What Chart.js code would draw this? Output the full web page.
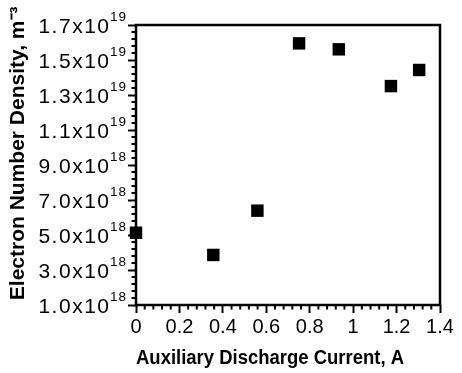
<!DOCTYPE html>
<html><head><meta charset="utf-8">
<script src="https://cdn.jsdelivr.net/npm/chart.js@4"></script>
<style>html,body{margin:0;padding:0;background:#fff}#wrap{width:462px;height:373px}</style>
</head><body><div id="wrap"><canvas id="c"></canvas></div>
<script>
const currentA = [0, 0.356, 0.559, 0.751, 0.934, 1.174, 1.304];
const densityM3 = [5.13e18, 3.86e18, 6.39e18, 1.595e19, 1.561e19, 1.351e19, 1.443e19];
const xTickValues = [0, 0.2, 0.4, 0.6, 0.8, 1.0, 1.2, 1.4];
const xTickLabels = ['0', '0.2', '0.4', '0.6', '0.8', '1', '1.2', '1.4'];
const yTickValues = [1e18, 3e18, 5e18, 7e18, 9e18, 1.1e19, 1.3e19, 1.5e19, 1.7e19];
const yTickMantissas = ['1.0x10', '3.0x10', '5.0x10', '7.0x10', '9.0x10', '1.1x10', '1.3x10', '1.5x10', '1.7x10'];
const yTickExponents = ['18', '18', '18', '18', '18', '19', '19', '19', '19'];
const xMinorStep = 0.04;
const yMinorStep = 4e17;

const FONT = '"Liberation Sans", Arial, Helvetica, sans-serif';

const framePlugin = {
  id: 'frame',
  afterDraw(chart) {
    const { ctx, chartArea: a, scales: { x, y } } = chart;
    ctx.save();
    ctx.strokeStyle = '#000';
    ctx.lineWidth = 2;
    ctx.beginPath();
    const nx = Math.round((x.max - x.min) / xMinorStep);
    for (let i = 0; i <= nx; i++) {
      if (i % 5 === 0) continue;
      const px = x.getPixelForValue(x.min + i * xMinorStep);
      ctx.moveTo(px, a.bottom);
      ctx.lineTo(px, a.bottom + 4.5);
    }
    const ny = Math.round((y.max - y.min) / yMinorStep);
    for (let i = 0; i <= ny; i++) {
      if (i % 5 === 0) continue;
      const py = y.getPixelForValue(y.min + i * yMinorStep);
      ctx.moveTo(a.left, py);
      ctx.lineTo(a.left - 4.5, py);
    }
    ctx.stroke();
    ctx.lineWidth = 2.5;
    ctx.strokeRect(a.left, a.top, a.right - a.left, a.bottom - a.top);
    // y tick labels with superscript exponents
    ctx.fillStyle = '#000';
    ctx.textBaseline = 'alphabetic';
    ctx.textAlign = 'right';
    yTickValues.forEach((v, i) => {
      const py = y.getPixelForValue(v);
      const xr = a.left - 9;
      ctx.font = '13.5px ' + FONT;
      ctx.letterSpacing = '1px';
      const ew = ctx.measureText(yTickExponents[i]).width;
      ctx.fillText(yTickExponents[i], xr, py - 4);
      ctx.font = '21px ' + FONT;
      ctx.letterSpacing = '1.5px';
      ctx.fillText(yTickMantissas[i], xr - ew + 0.5, py + 8);
    });
    ctx.restore();
  }
};

new Chart(document.getElementById('c'), {
  type: 'scatter',
  data: {
    datasets: [{
      data: currentA.map((v, i) => ({ x: v, y: densityM3[i] })),
      pointStyle: 'rect',
      pointRadius: 8.8,
      pointHoverRadius: 8.8,
      backgroundColor: '#000',
      borderColor: '#000',
      borderWidth: 0,
      clip: false
    }]
  },
  options: {
    responsive: true,
    maintainAspectRatio: false,
    animation: false,
    layout: { padding: { top: 25, right: 22, left: 0, bottom: 0 } },
    plugins: { legend: { display: false }, tooltip: { enabled: false } },
    scales: {
      x: {
        type: 'linear', min: 0, max: 1.4,
        afterBuildTicks: s => { s.ticks = xTickValues.map(v => ({ value: v })); },
        afterFit: s => { s.height = 68; },
        ticks: {
          callback: (v, i) => xTickLabels[i],
          color: '#000', font: { family: FONT, size: 20 }, padding: 2,
          maxRotation: 0, autoSkip: false
        },
        grid: { drawOnChartArea: false, drawTicks: true, tickLength: 8, tickWidth: 2, tickColor: '#000' },
        border: { display: false },
        title: {
          display: true, text: 'Auxiliary Discharge Current, A       ', color: '#000',
          font: { family: FONT, size: 21, weight: 'bold' }, padding: { top: 2, bottom: 2.5 }
        }
      },
      y: {
        type: 'linear', min: 1e18, max: 1.7e19,
        afterBuildTicks: s => { s.ticks = yTickValues.map(v => ({ value: v })); },
        afterFit: s => { s.width = 136; },
        ticks: { display: false },
        grid: { drawOnChartArea: false, drawTicks: true, tickLength: 8, tickWidth: 2, tickColor: '#000' },
        border: { display: false },
        title: {
          display: true, text: '    Electron Number Density, m⁻³', color: '#000',
          font: { family: FONT, size: 21, weight: 'bold' }, padding: { top: 5.5, bottom: 0 }
        }
      }
    }
  },
  plugins: [framePlugin]
});
</script>
</body></html>
